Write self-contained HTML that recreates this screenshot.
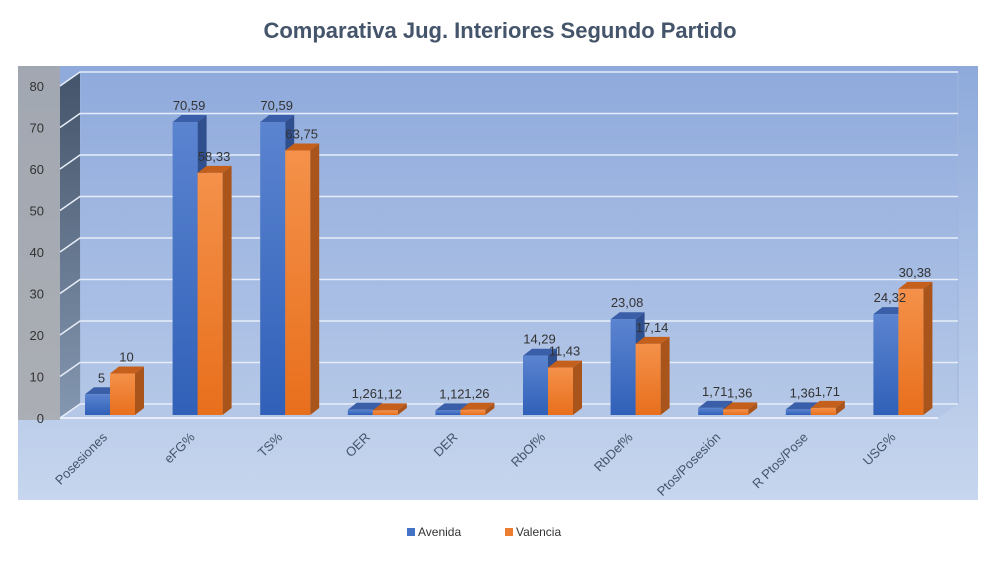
<!DOCTYPE html>
<html><head><meta charset="utf-8"><style>
body{margin:0;background:#fff;width:1000px;height:557px;overflow:hidden;font-family:"Liberation Sans",sans-serif}
</style></head><body>
<svg width="1000" height="557" viewBox="0 0 1000 557">
<defs>
<linearGradient id="bg" x1="0" y1="0" x2="0" y2="1"><stop offset="0" stop-color="#8eaadb"/><stop offset="1" stop-color="#c7d6ee"/></linearGradient>
<linearGradient id="wall" x1="0" y1="0" x2="0" y2="1"><stop offset="0" stop-color="#8faadc"/><stop offset="1" stop-color="#b4c7e7"/></linearGradient>
<linearGradient id="side" x1="0" y1="0" x2="0" y2="1"><stop offset="0" stop-color="#44546a"/><stop offset="1" stop-color="#8497b0"/></linearGradient>
<linearGradient id="blue" x1="0" y1="0" x2="0" y2="1"><stop offset="0" stop-color="#5b84d0"/><stop offset="1" stop-color="#3060b8"/></linearGradient>
<linearGradient id="orange" x1="0" y1="0" x2="0" y2="1"><stop offset="0" stop-color="#f4914a"/><stop offset="1" stop-color="#e86f1c"/></linearGradient>
</defs>
<rect x="0" y="0" width="1000" height="557" fill="#fff"/>
<rect x="18" y="66" width="960" height="434" fill="url(#bg)"/>
<rect x="18" y="66" width="42" height="354" fill="#a6a6a6" opacity="0.8"/>
<text x="500" y="38" text-anchor="middle" font-size="22" font-weight="bold" fill="#44546a">Comparativa Jug. Interiores  Segundo Partido</text>
<g id="g"></g>
<g>
<rect x="407" y="528" width="8" height="8" fill="#4472c4"/>
<text x="418" y="536" font-size="12" fill="#333">Avenida</text>
<rect x="505" y="528" width="8" height="8" fill="#ed7d31"/>
<text x="516" y="536" font-size="12" fill="#333">Valencia</text>
</g>
</svg>
<script>
const categories=["Posesiones","eFG%","TS%","OER","DER","RbOf%","RbDef%","Ptos/Posesión","R Ptos/Pose","USG%"];
const avenida=[5,70.59,70.59,1.26,1.12,14.29,23.08,1.71,1.36,24.32];
const valencia=[10,58.33,63.75,1.12,1.26,11.43,17.14,1.36,1.71,30.38];
const ticks=[0,10,20,30,40,50,60,70,80];
const NS="http://www.w3.org/2000/svg";
const g=document.getElementById('g');
const DX=20,DY=14;
const fy=v=>418-v*4.15; // front axis
const by=v=>415-v*4.15; // bar
const cx=i=>110+i*87.6;
const fmt=v=>String(v).replace('.',',');
function el(t,a){const e=document.createElementNS(NS,t);for(const k in a)e.setAttribute(k,a[k]);g.appendChild(e);return e;}
// back wall
let w=el('rect',{x:60+DX,y:fy(80)-DY,width:878,height:fy(0)-fy(80),fill:'url(#wall)',stroke:'#a0b4dc'});


// side wall
let s=el('polygon',{points:`60,${fy(80)} ${60+DX},${fy(80)-DY} ${60+DX},${fy(0)-DY} 60,${fy(0)}`,fill:'url(#side)'});


// floor
let f=el('polygon',{points:`60,${fy(0)} ${60+DX},${fy(0)-DY} ${958},${fy(0)-DY} ${938},${fy(0)}`,fill:'#b4c7e7'});


ticks.forEach(t=>{
 const l=el('polyline',{points:`60,${fy(t)} ${60+DX},${fy(t)-DY} 958,${fy(t)-DY}`,fill:'none',stroke:'#e6edf8','stroke-width':1.5});
 
 
 const tx=el('text',{x:44,y:fy(t)+5,'text-anchor':'end','font-size':13,fill:'#333'});
 tx.textContent=t;
 
 
});
const fl=el('line',{x1:60,y1:fy(0),x2:938,y2:fy(0),stroke:'#e6edf8','stroke-width':2});


const BW=25,bd=9,bdy=7;
function bar(x,v,fill,side,top,name){
 const y=by(v),h=415-y;
 const sd=el('polygon',{points:`${x+BW},${y} ${x+BW+bd},${y-bdy} ${x+BW+bd},${415-bdy} ${x+BW},415`,fill:side});
 
 
 const tp=el('polygon',{points:`${x},${y} ${x+bd},${y-bdy} ${x+BW+bd},${y-bdy} ${x+BW},${y}`,fill:top});
 
 
 const r=el('rect',{x:x,y:y,width:BW,height:Math.max(h,2),fill:fill});
 
 
 return y;
}
categories.forEach((c,i)=>{
 const x=cx(i);
 const ya=bar(x-BW,avenida[i],'url(#blue)','#2f4f8f','#3a5fa8','bar-avenida');
 const yv=bar(x,valencia[i],'url(#orange)','#a9541a','#c45f1c','bar-valencia');
 const ta=el('text',{x:x-BW/2+4,y:ya-12,'text-anchor':'middle','font-size':13,fill:'#333'});
 ta.textContent=fmt(avenida[i]);
 
 
 const tv=el('text',{x:x+BW/2+4,y:yv-12,'text-anchor':'middle','font-size':13,fill:'#333'});
 tv.textContent=fmt(valencia[i]);
 
 
 const cl=el('text',{x:x-2,y:438,'text-anchor':'end','font-size':13,fill:'#44546a',transform:`rotate(-45 ${x-2} 438)`});
 cl.textContent=c;
 
 
});
</script>
</body></html>
